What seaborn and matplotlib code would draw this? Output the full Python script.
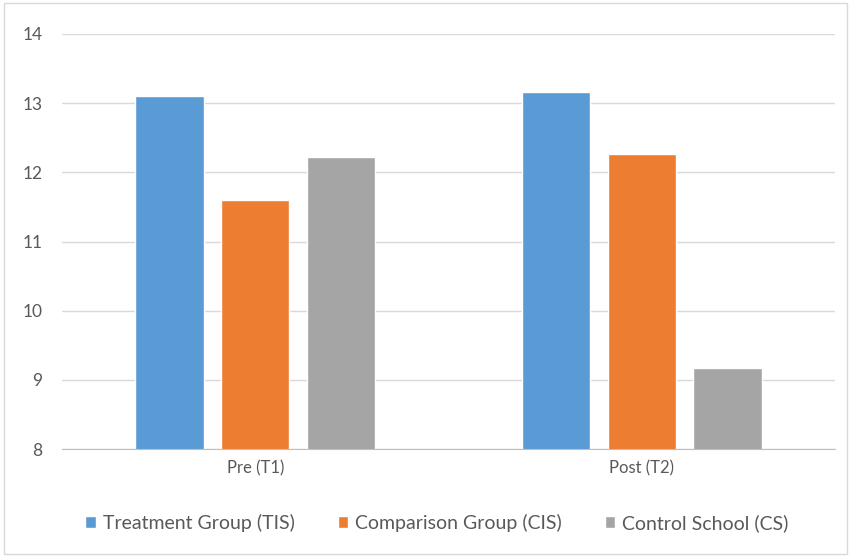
import pandas as pd
import seaborn as sns
import matplotlib.pyplot as plt

# values
times = ["Pre (T1)", "Post (T2)"]
groups = ["Treatment Group (TIS)", "Comparison Group (CIS)", "Control School (CS)"]
tis = [13.11, 13.16]
cis = [11.60, 12.27]
cs = [12.22, 9.17]
colors = ["#5B9BD5", "#ED7D31", "#A5A5A5"]

df = pd.DataFrame({
    "time": times * 3,
    "group": [g for g in groups for _ in times],
    "score": tis + cis + cs,
})

sns.set_style("white")
plt.rcParams["font.family"] = ["Lato", "DejaVu Sans"]

fig = plt.figure(figsize=(8.51, 5.57), dpi=100)
ax = fig.add_axes([62 / 851, 1 - 449 / 557, (835 - 62) / 851, (449 - 34) / 557])

sns.barplot(data=df, x="time", y="score", hue="group", order=times, hue_order=groups,
            palette=colors, width=0.664, gap=0.2, ax=ax, saturation=1)

ax.set_ylim(8, 14)
ax.set_xlim(-0.5, 1.5)
ax.set_yticks(range(8, 15))
ax.yaxis.grid(True, color="#d9d9d9", linewidth=1)
ax.set_axisbelow(True)
for s in ["top", "right", "left"]:
    ax.spines[s].set_visible(False)
ax.spines["bottom"].set_color("#bfbfbf")
ax.tick_params(axis="both", length=0, labelcolor="#595959")
ax.tick_params(axis="y", labelsize=12.5, pad=14)
ax.tick_params(axis="x", labelsize=12, pad=8)
ax.set_xlabel("")
ax.set_ylabel("")

ax.legend(loc="center", bbox_to_anchor=(0.485, -0.178), ncol=3, frameon=False,
          fontsize=14, labelcolor="#595959", handlelength=0.55, handleheight=0.55,
          columnspacing=2.2, handletextpad=0.35)

# light chart border like the spreadsheet chart area
fig.patches.append(plt.Rectangle((0.005, 0.005), 0.99, 0.99, transform=fig.transFigure,
                                 fill=False, edgecolor="#d9d9d9", linewidth=1))

fig.savefig("out.png", dpi=100)
